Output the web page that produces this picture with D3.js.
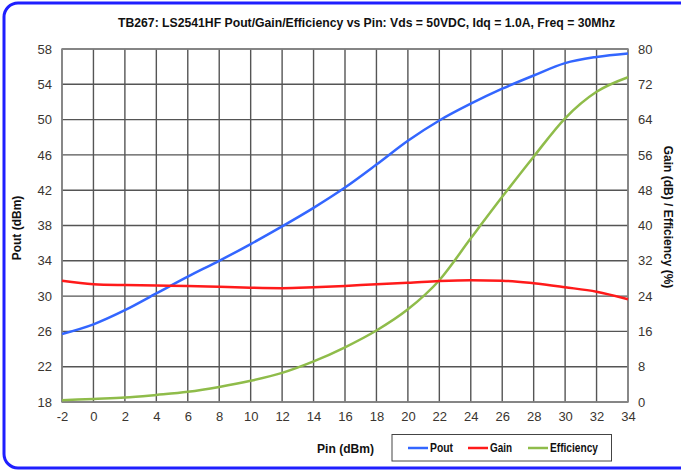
<!DOCTYPE html>
<html>
<head>
<meta charset="utf-8">
<script src="https://cdn.jsdelivr.net/npm/d3@7"></script>
<style>
  html, body { margin: 0; padding: 0; background: #fff; }
  svg { display: block; }
  text { font-family: "Liberation Sans", Arial, sans-serif; }
</style>
</head>
<body>
<svg id="chart" width="681" height="470"></svg>
<script>
// ---- data ----
const pin = [-2, 0, 2, 4, 6, 8, 10, 12, 14, 16, 18, 20, 22, 24, 26, 28, 30, 32, 34];
const pout = [25.7, 26.8, 28.4, 30.3, 32.2, 34.0, 35.9, 37.9, 40.0, 42.3, 44.9, 47.6, 49.9, 51.8, 53.5, 55.0, 56.4, 57.1, 57.5];
const gain = [27.5, 26.7, 26.5, 26.4, 26.3, 26.1, 25.9, 25.8, 26.0, 26.3, 26.7, 27.0, 27.4, 27.6, 27.5, 26.9, 26.0, 25.0, 23.3];
const efficiency = [0.4, 0.7, 1.0, 1.6, 2.3, 3.4, 4.8, 6.6, 9.2, 12.4, 16.2, 21.0, 27.6, 37.1, 46.5, 55.6, 64.3, 70.3, 73.6];
const xTicks = [-2, 0, 2, 4, 6, 8, 10, 12, 14, 16, 18, 20, 22, 24, 26, 28, 30, 32, 34];
const leftTicks = [18, 22, 26, 30, 34, 38, 42, 46, 50, 54, 58];
const rightTicks = [0, 8, 16, 24, 32, 40, 48, 56, 64, 72, 80];
const seriesNames = ["Pout", "Gain", "Efficiency"];
const titleText = "TB267: LS2541HF Pout/Gain/Efficiency vs Pin: Vds = 50VDC, Idq = 1.0A, Freq = 30Mhz";

// ---- layout ----
const svg = d3.select("#chart");
const L = 62, R = 628, T = 49, B = 402;
const x = d3.scaleLinear().domain([-2, 34]).range([L, R]);
const yL = d3.scaleLinear().domain([18, 58]).range([B, T]);
const yR = d3.scaleLinear().domain([0, 80]).range([B, T]);
const colors = { Pout: "#3366ff", Gain: "#ff1a1a", Efficiency: "#8fbc4a" };

// outer border
svg.append("rect").attr("x", 4).attr("y", 3).attr("width", 700).attr("height", 465)
  .attr("rx", 14).attr("fill", "none").attr("stroke", "#1f1fff").attr("stroke-width", 3);

// title
svg.append("text").attr("x", 118).attr("y", 27)
  .attr("font-size", 13).attr("font-weight", "bold").attr("fill", "#111")
  .attr("textLength", 497).attr("lengthAdjust", "spacingAndGlyphs")
  .text(titleText);

// grid
const grid = svg.append("g");
grid.selectAll("line.v").data(xTicks).join("line")
  .attr("x1", d => x(d)).attr("x2", d => x(d)).attr("y1", T).attr("y2", B)
  .attr("stroke", "#555").attr("stroke-width", 1.4);
grid.selectAll("line.h").data(leftTicks).join("line")
  .attr("x1", L).attr("x2", R).attr("y1", d => yL(d)).attr("y2", d => yL(d))
  .attr("stroke", "#555").attr("stroke-width", 1.4);
svg.append("rect").attr("x", L).attr("y", T).attr("width", R - L).attr("height", B - T)
  .attr("fill", "none").attr("stroke", "#888").attr("stroke-width", 1.5);

// axes
const fmt = d => String(d);
const axL = d3.axisLeft(yL).tickValues(leftTicks).tickFormat(fmt).tickSize(0).tickPadding(10);
const axR = d3.axisRight(yR).tickValues(rightTicks).tickFormat(fmt).tickSize(0).tickPadding(10);
const axB = d3.axisBottom(x).tickValues(xTicks).tickFormat(fmt).tickSize(0).tickPadding(10);
function styleAxis(g) {
  g.select(".domain").remove();
  g.selectAll("text").attr("font-size", 13).attr("fill", "#3a3530")
    .style("font-family", '"Liberation Sans", Arial, sans-serif');
}
svg.append("g").attr("transform", `translate(${L},0)`).call(axL).call(styleAxis);
svg.append("g").attr("transform", `translate(${R},0)`).call(axR).call(styleAxis);
svg.append("g").attr("transform", `translate(0,${B})`).call(axB).call(styleAxis);

// axis titles
svg.append("text").attr("transform", "translate(21,228) rotate(-90)").attr("text-anchor", "middle")
  .attr("font-size", 12).attr("font-weight", "bold").attr("fill", "#111").text("Pout (dBm)");
svg.append("text").attr("transform", "translate(664,217) rotate(90)").attr("text-anchor", "middle")
  .attr("font-size", 12).attr("font-weight", "bold").attr("fill", "#111").text("Gain (dB) / Efficiency (%)");
svg.append("text").attr("x", 317).attr("y", 453)
  .attr("font-size", 13).attr("font-weight", "bold").attr("fill", "#111")
  .attr("textLength", 57).attr("lengthAdjust", "spacingAndGlyphs").text("Pin (dBm)");

// lines
const mk = (yScale, vals) => d3.line().x((d, i) => x(pin[i])).y(d => yScale(d)).curve(d3.curveMonotoneX)(vals);
svg.append("path").attr("d", mk(yL, pout)).attr("fill", "none").attr("stroke", colors.Pout).attr("stroke-width", 2.5);
svg.append("path").attr("d", mk(yR, efficiency)).attr("fill", "none").attr("stroke", colors.Efficiency).attr("stroke-width", 2.5);
svg.append("path").attr("d", mk(yR, gain)).attr("fill", "none").attr("stroke", colors.Gain).attr("stroke-width", 2.5);

// legend
svg.append("rect").attr("x", 392).attr("y", 434.5).attr("width", 219.5).attr("height", 26.5)
  .attr("fill", "#fff").attr("stroke", "#444").attr("stroke-width", 1);
const legX = { Pout: 408, Gain: 468, Efficiency: 528 };
const legW = { Pout: 23, Gain: 22, Efficiency: 48 };
seriesNames.forEach(n => {
  svg.append("line").attr("x1", legX[n]).attr("x2", legX[n] + 20).attr("y1", 448).attr("y2", 448)
    .attr("stroke", colors[n]).attr("stroke-width", 2.5);
  svg.append("text").attr("x", legX[n] + 22).attr("y", 452).attr("font-size", 12)
    .attr("font-weight", "bold").attr("fill", "#111")
    .attr("textLength", legW[n]).attr("lengthAdjust", "spacingAndGlyphs").text(n);
});
</script>
</body>
</html>
